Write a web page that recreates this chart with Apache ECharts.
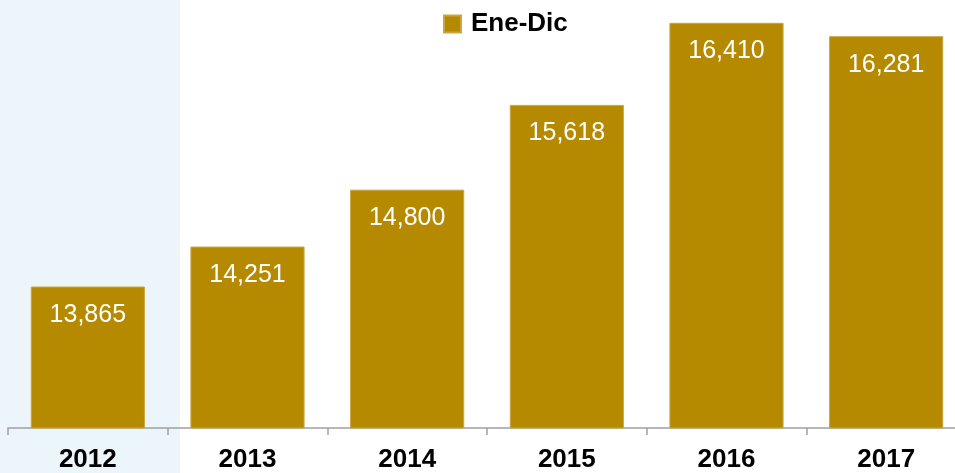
<!DOCTYPE html>
<html><head><meta charset="utf-8">
<script src="https://cdn.jsdelivr.net/npm/echarts@6/dist/echarts.min.js"></script>
<style>html,body{margin:0;padding:0;background:#fff;overflow:hidden;width:955px;height:473px}#c{width:980px;height:473px}</style>
</head><body><div id="c"></div>
<script>
const categories = ['2012','2013','2014','2015','2016','2017'];
const seriesName = 'Ene-Dic';
const values = [13865, 14251, 14800, 15618, 16410, 16281];

const chart = echarts.init(document.getElementById('c'));
chart.setOption({
  animation: false,
  backgroundColor: '#ffffff',
  graphic: [{
    type: 'rect', z: -10, silent: true,
    shape: {x: 0, y: 0, width: 180, height: 473},
    style: {fill: '#ecf5f9'}
  }],
  legend: {
    top: 6, left: 438,
    itemWidth: 17, itemHeight: 17, itemGap: 10,
    icon: 'rect',
    textStyle: {fontFamily: 'Liberation Sans', fontSize: 26, color: '#000', fontWeight: 'bold', padding: [0, 0, 0, 5]},
    data: [seriesName]
  },
  grid: {left: 8, right: 14, top: 0, bottom: 44, containLabel: false},
  xAxis: {
    type: 'category', data: categories,
    axisLine: {lineStyle: {color: '#a0a0a0', width: 1.5}},
    axisTick: {show: true, length: 7, lineStyle: {color: '#a0a0a0', width: 1.5}},
    axisLabel: {margin: 19, color: '#000', fontFamily: 'Liberation Sans', fontWeight: 'bold', fontSize: 26}
  },
  yAxis: {type: 'value', min: 12500, max: 16630, show: false, splitLine: {show: false}},
  series: [{
    name: seriesName, type: 'bar', data: values,
    barCategoryGap: '28.5%',
    itemStyle: {color: '#b68a00', borderColor: '#c9a640', borderWidth: 1},
    label: {
      show: true, position: 'insideTop', distance: 16,
      color: '#fff', fontFamily: 'Liberation Sans', fontSize: 25,
      formatter: p => p.value.toLocaleString('en-US')
    }
  }]
});
</script></body></html>
